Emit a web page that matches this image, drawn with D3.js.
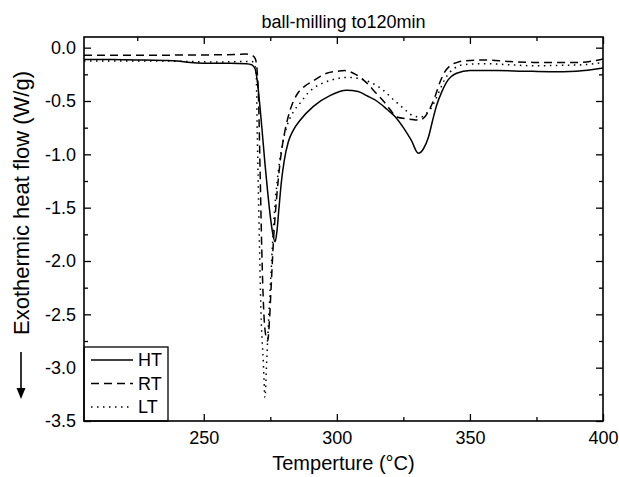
<!DOCTYPE html>
<html>
<head>
<meta charset="utf-8">
<script src="https://cdn.jsdelivr.net/npm/d3@7"></script>
<style>
  body { margin: 0; background: white; }
  svg { font-family: "Liberation Sans", Arial, sans-serif; }
  .axis path.domain { display: none; }
  .axis line { stroke: black; stroke-width: 1.3px; }
  .axis text { font-size: 18px; fill: black; }
  .frame { fill: none; stroke: black; stroke-width: 1.6px; }
  .curve { fill: none; stroke: black; stroke-width: 1.5px; }
</style>
</head>
<body>
<svg id="chart" width="619" height="477"></svg>
<script>
// DSC curves: [temperature in C, heat flow in W/g]
var ht = [
  [205,-0.11],[215,-0.112],[225,-0.115],[235,-0.12],[240,-0.125],[245,-0.14],[250,-0.145],
  [260,-0.145],[266,-0.15],[268,-0.16],[269.3,-0.2],[270.2,-0.33],[271.1,-0.55],[272,-0.8],
  [273,-1.09],[274,-1.35],[274.9,-1.56],[275.9,-1.74],[276.8,-1.82],[277.5,-1.72],[278.2,-1.52],
  [279.2,-1.25],[280.3,-1.05],[281.8,-0.88],[283.5,-0.78],[286.2,-0.68],[291.2,-0.55],
  [297.4,-0.45],[303.7,-0.40],[308,-0.41],[311.2,-0.45],[315,-0.5],[318.7,-0.575],[322,-0.65],
  [325,-0.75],[328,-0.87],[330.6,-0.99],[332.5,-0.95],[334.4,-0.84],[336,-0.68],[337.5,-0.54],
  [339.5,-0.41],[341.3,-0.32],[343,-0.27],[345,-0.24],[350,-0.215],[360,-0.215],[370,-0.22],
  [380,-0.225],[390,-0.22],[400,-0.19]
];

var rt = [
  [205,-0.07],[220,-0.07],[235,-0.07],[250,-0.068],[262,-0.065],[266,-0.06],[268,-0.07],
  [269.3,-0.1],[270,-0.2],[270.6,-0.5],[271.2,-1.2],[271.8,-1.9],[272.5,-2.45],[273.3,-2.7],
  [274,-2.75],[274.7,-2.55],[275.3,-2.25],[276.1,-1.85],[277.4,-1.4],[278.6,-1.09],[280.5,-0.78],
  [282.4,-0.59],[285.5,-0.42],[288,-0.36],[291.2,-0.31],[296.2,-0.24],[300.6,-0.22],[303,-0.215],
  [306.2,-0.24],[311.2,-0.33],[314.5,-0.42],[317.5,-0.5],[320,-0.58],[322.5,-0.65],[327.5,-0.67],
  [331.2,-0.68],[333,-0.65],[335,-0.57],[337,-0.45],[338.8,-0.32],[340.5,-0.23],[342.5,-0.17],
  [345,-0.14],[347.5,-0.125],[355,-0.115],[365,-0.13],[373.8,-0.138],[388.8,-0.14],[395,-0.13],
  [400,-0.106]
];

var lt = [
  [205,-0.125],[220,-0.125],[235,-0.125],[245,-0.13],[255,-0.135],[265,-0.13],[268,-0.13],
  [269,-0.15],[269.7,-0.25],[270.1,-0.8],[270.8,-1.7],[271.5,-2.48],[272.4,-2.96],[273,-3.28],
  [273.6,-2.96],[274.5,-2.48],[275.5,-2.0],[276.5,-1.56],[277.6,-1.25],[279.3,-0.94],[281.2,-0.74],
  [283.7,-0.6],[286.2,-0.52],[289,-0.43],[292.4,-0.36],[296,-0.32],[300,-0.29],[302.4,-0.28],
  [305.5,-0.28],[308.7,-0.29],[313,-0.33],[317.5,-0.4],[320.5,-0.47],[323.7,-0.54],[326.5,-0.6],
  [328.7,-0.64],[331.8,-0.65],[333.5,-0.62],[335.6,-0.56],[337.2,-0.48],[338.8,-0.39],
  [340.5,-0.3],[342.5,-0.23],[345,-0.18],[347.5,-0.16],[355,-0.15],[365,-0.16],[373.8,-0.17],
  [385,-0.165],[392.5,-0.16],[400,-0.14]
];

var seriesNames = ["HT", "RT", "LT"];
var seriesData = [ht, rt, lt];
var seriesDash = [null, "8,5", "1.5,4.5"];

var xMajor = [250, 300, 350, 400];
var xMinor = [225, 275, 325, 375];
var yMajor = [0, -0.5, -1.0, -1.5, -2.0, -2.5, -3.0, -3.5];
var yMinor = [-0.25, -0.75, -1.25, -1.75, -2.25, -2.75, -3.25];

var title = "ball-milling to120min";
var xTitle = "Temperture (\u00B0C)";
var yTitle = "Exothermic heat flow (W/g)";

var margin = {top: 37, right: 16, bottom: 56, left: 84},
    width = 619 - margin.left - margin.right,
    height = 477 - margin.top - margin.bottom;

var svg = d3.select("#chart");

var x = d3.scaleLinear().domain([205, 400]).range([0, width]);
var y = d3.scaleLinear().domain([-3.5, 0.1]).range([height, 0]);

// d3 writes a real minus sign, the plot uses a plain hyphen
var yFormat = function(d) { return d3.format(".1f")(d).replace("\u2212", "-"); };

var g = svg.append("g")
    .attr("transform", "translate(" + margin.left + "," + margin.top + ")");

g.append("defs").append("clipPath").attr("id", "clip")
  .append("rect").attr("width", width).attr("height", height);

// ticks point inward on all four sides
g.append("g").attr("class", "x axis")
    .attr("transform", "translate(0," + height + ")")
    .call(d3.axisBottom(x).tickValues(xMajor).tickSize(-7).tickPadding(10).tickFormat(d3.format("d")));
g.append("g").attr("class", "x axis minor")
    .attr("transform", "translate(0," + height + ")")
    .call(d3.axisBottom(x).tickValues(xMinor).tickSize(-4).tickFormat(""));
g.append("g").attr("class", "x axis")
    .call(d3.axisTop(x).tickValues(xMajor).tickSize(-7).tickFormat(""));
g.append("g").attr("class", "x axis minor")
    .call(d3.axisTop(x).tickValues(xMinor).tickSize(-4).tickFormat(""));

g.append("g").attr("class", "y axis")
    .call(d3.axisLeft(y).tickValues(yMajor).tickSize(-7).tickPadding(8).tickFormat(yFormat));
g.append("g").attr("class", "y axis minor")
    .call(d3.axisLeft(y).tickValues(yMinor).tickSize(-4).tickFormat(""));
g.append("g").attr("class", "y axis")
    .attr("transform", "translate(" + width + ",0)")
    .call(d3.axisRight(y).tickValues(yMajor).tickSize(-7).tickFormat(""));
g.append("g").attr("class", "y axis minor")
    .attr("transform", "translate(" + width + ",0)")
    .call(d3.axisRight(y).tickValues(yMinor).tickSize(-4).tickFormat(""));

var line = d3.line()
    .curve(d3.curveMonotoneX)
    .x(function(d) { return x(d[0]); })
    .y(function(d) { return y(d[1]); });

g.append("g").attr("clip-path", "url(#clip)")
  .selectAll("path")
  .data(seriesData)
  .enter().append("path")
    .attr("class", "curve")
    .attr("d", line)
    .attr("stroke-dasharray", function(d, i) { return seriesDash[i]; });

// legend, sitting in the lower left corner
var legend = g.append("g").attr("transform", "translate(0," + (height - 74) + ")");
legend.append("rect")
    .attr("width", 84).attr("height", 74)
    .attr("fill", "white").attr("stroke", "black").attr("stroke-width", 1.3);
var item = legend.selectAll(".item")
    .data(seriesNames)
  .enter().append("g")
    .attr("class", "item")
    .attr("transform", function(d, i) { return "translate(0," + (13 + i * 23.5) + ")"; });
item.append("line")
    .attr("x1", 7).attr("x2", 49)
    .attr("stroke", "black").attr("stroke-width", 1.5)
    .attr("stroke-dasharray", function(d, i) { return seriesDash[i]; });
item.append("text")
    .attr("x", 54).attr("dy", "0.36em")
    .style("font-size", "18px")
    .text(function(d) { return d; });

g.append("rect").attr("class", "frame").attr("width", width).attr("height", height);

svg.append("text")
    .attr("x", margin.left + width / 2).attr("y", 28)
    .attr("text-anchor", "middle")
    .style("font-size", "18px")
    .text(title);

svg.append("text")
    .attr("x", margin.left + width / 2).attr("y", 470)
    .attr("text-anchor", "middle")
    .style("font-size", "20px")
    .text(xTitle);

svg.append("text")
    .attr("transform", "translate(29,203) rotate(-90)")
    .attr("text-anchor", "middle")
    .style("font-size", "22px")
    .text(yTitle);

// the downward arrow under the y title
svg.append("line")
    .attr("x1", 21).attr("x2", 21).attr("y1", 352).attr("y2", 390)
    .attr("stroke", "black").attr("stroke-width", 1.6);
svg.append("path")
    .attr("d", "M16.5,388 L25.5,388 L21,399 Z")
    .attr("fill", "black");
</script>
</body>
</html>
